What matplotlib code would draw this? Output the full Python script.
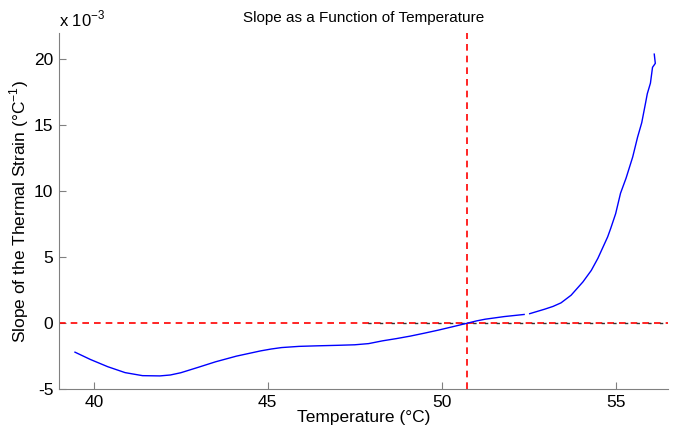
import numpy as np
import matplotlib
matplotlib.use("Agg")
import matplotlib.pyplot as plt

plt.rcParams["font.family"] = ["Liberation Sans", "DejaVu Sans"]

# temperature (C) and slope (x 1e-3 per C)
temp = [39.46, 39.9, 40.4, 40.9, 41.4, 41.9, 42.2, 42.5, 43.0, 43.5, 44.1,
        44.8, 45.1, 45.4, 45.9, 46.4, 47.0, 47.5, 47.9, 48.3, 48.7, 49.1,
        49.5, 49.9, 50.3, 50.74, 51.0, 51.25, 51.8, 52.37, np.nan, 52.53,
        52.96, 53.2, 53.43, 53.72, 54.06, 54.3, 54.49, 54.77, 54.86, 55.0,
        55.14, 55.3, 55.49, 55.63, 55.75, 55.86, 55.91, 56.0, 56.06, 56.14,
        56.11]
slope = [-2.2, -2.75, -3.3, -3.75, -3.98, -4.0, -3.93, -3.76, -3.35, -2.93,
         -2.5, -2.1, -1.96, -1.85, -1.76, -1.72, -1.68, -1.64, -1.55, -1.34,
         -1.17, -0.98, -0.76, -0.53, -0.28, 0.0, 0.17, 0.3, 0.5, 0.66, np.nan,
         0.72, 1.06, 1.27, 1.54, 2.12, 3.13, 4.0, 4.92, 6.54, 7.2, 8.3, 9.85,
         11.0, 12.6, 14.1, 15.2, 16.7, 17.4, 18.2, 19.4, 19.7, 20.4]

crossing = 50.74
grey_zero_start = 47.8

fig = plt.figure(figsize=(6.78, 4.29), dpi=100)
ax = fig.add_axes([0.087, 0.093, 0.898, 0.83])

ax.axhline(0, color="#ff0000", linestyle="--", linewidth=1.2, dashes=(4, 3))
# black dashes sitting in the gaps of the red ones on the right part
ax.plot([grey_zero_start, 56.5], [0, 0], color="#333333", linewidth=1,
        linestyle=(6.4, (2.4, 6.0)), dash_capstyle="butt")
ax.axvline(crossing, color="#ff0000", linestyle="--", linewidth=1.2,
           dashes=(4, 3))
ax.plot(temp, slope, color="#0000ff", linewidth=1)

ax.set_xlim(39.0, 56.5)
ax.set_ylim(-5, 22)
ax.set_xticks([40, 45, 50, 55])
ax.set_yticks([-5, 0, 5, 10, 15, 20])
ax.set_yticklabels(["-5", "0", "5", "10", "15", "20"])

for side in ["top", "right"]:
    ax.spines[side].set_visible(False)
for side in ["left", "bottom"]:
    ax.spines[side].set_color("#808080")
ax.tick_params(direction="in", length=5, color="#808080", labelsize=12.5,
               pad=4)

ax.text(0.0, 1.01, "x 10$^{\\mathregular{-3}}$", transform=ax.transAxes,
        fontsize=12, ha="left", va="bottom")

ax.set_title("Slope as a Function of Temperature", fontsize=11, pad=8)
ax.set_xlabel("Temperature (\u00b0C)", fontsize=12.5, labelpad=0)
ax.set_ylabel("Slope of the Thermal Strain (\u00b0C$^{\\mathregular{-1}}$)",
              fontsize=12.5, labelpad=2)

fig.savefig("out.png", dpi=100)
